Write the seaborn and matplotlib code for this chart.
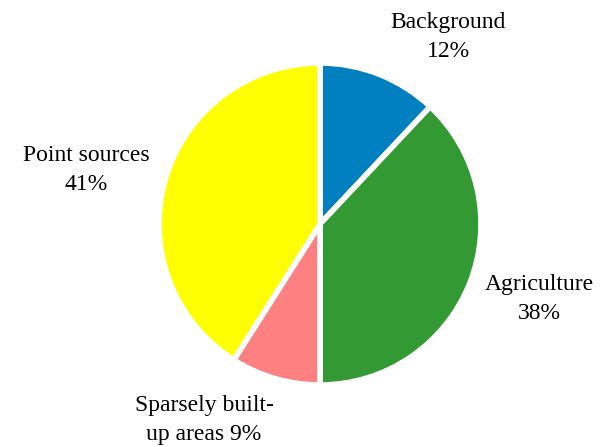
import matplotlib
matplotlib.use("Agg")
import matplotlib.pyplot as plt
import seaborn as sns

# Source shares of the load (percent), clockwise from the top
categories = ["Background", "Agriculture", "Sparsely built-\nup areas", "Point sources"]
shares = [12, 38, 9, 41]
colors = ["#0080C0", "#339933", "#FF8080", "#FFFF00"]
# how the percentage follows the name in each label
separators = ["\n", "\n", " ", "\n"]

sns.set_style("white")
plt.rcParams["font.family"] = ["Liberation Serif", "DejaVu Serif"]

fig = plt.figure(figsize=(6.02, 4.47), dpi=100)
ax = fig.add_axes([0, 0, 1, 1])

ax.pie(shares, colors=colors, startangle=90, counterclock=False,
       center=(320, 223), radius=161, frame=True,
       wedgeprops=dict(edgecolor="white", linewidth=4))
ax.set_xlim(0, 602)
ax.set_ylim(0, 447)
ax.set_aspect("equal")
ax.axis("off")

label_pos = [(448, 410), (539, 148), (204, 27), (86, 277)]
for name, val, sep, (x, y) in zip(categories, shares, separators, label_pos):
    ax.text(x, y, f"{name}{sep}{val}%", ha="center", va="center",
            fontsize=17, linespacing=1.55, color="black")

fig.savefig("out.png", dpi=100)
